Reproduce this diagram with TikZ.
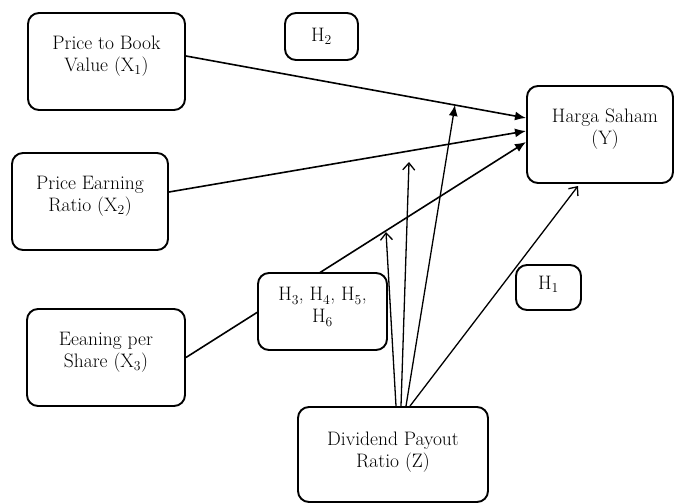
\documentclass[tikz,border=0pt]{standalone}
\usetikzlibrary{arrows.meta,backgrounds}
\begin{document}
\begin{tikzpicture}[x=1pt, y=-1pt, font=\fontsize{19.5}{22}\selectfont, line join=round, line cap=round, >={Latex[length=11pt,width=9pt]},
	hop/.style={draw, line width=1.9pt, rounded corners=11pt, fill=white, inner sep=0pt},
	chu/.style={align=center, inner sep=0pt},
	lien/.style={line width=1.6pt},
	mo/.style={line width=1.3pt, -{Straight Barb[length=7pt,width=12pt]}}]
	\useasboundingbox (0,0) rectangle (674,503);
	% Các hộp biến
	\node[hop, minimum width=157pt, minimum height=97pt] (x1) at (106.5,61.5) {};
	\node[chu] (x1t) at (106.5,56) {Price to Book\\Value (X\textsubscript{1})};
	\node[hop, minimum width=156pt, minimum height=97pt] (x2) at (90,201.5) {};
	\node[chu] (x2t) at (90,196) {Price Earning\\Ratio (X\textsubscript{2})};
	\node[hop, minimum width=158pt, minimum height=97pt] (x3) at (106,357.5) {};
	\node[chu] (x3t) at (106,352) {Eeaning per\\Share (X\textsubscript{3})};
	\node[hop, minimum width=146pt, minimum height=97pt] (y) at (600,134.5) {};
	\node[chu] (yt) at (605,129) {Harga Saham\\(Y)};
	\node[hop, minimum width=190pt, minimum height=95pt] (z) at (393,454.5) {};
	\node[chu] (zt) at (393,452) {Dividend Payout\\Ratio (Z)};
	% Các hộp giả thuyết
	\node[hop, minimum width=73pt, minimum height=47pt] (h2) at (321.5,36.5) {H\textsubscript{2}};
	\node[hop, minimum width=65pt, minimum height=45pt] (h1) at (548.5,287.5) {};
	\node[chu] (h1t) at (548.5,284) {H\textsubscript{1}};
	\node[hop, minimum width=129pt, minimum height=77pt] (h36) at (322.5,311.5) {};
	\node[chu] (h36t) at (322.5,307) {H\textsubscript{3}, H\textsubscript{4}, H\textsubscript{5},\\H\textsubscript{6}};
	% Điểm đầu mũi tên
	\coordinate (y1) at (526,118);
	\coordinate (y2) at (526,131);
	\coordinate (y3) at (526,142);
	\coordinate (m1) at (386,232);
	\coordinate (m2) at (409,162);
	\coordinate (m3) at (455,105);
	\coordinate (m4) at (578,186);
	\begin{scope}[on background layer]
		\draw[lien, ->] ([yshift=5.5pt]x1.east) -- (y1);
		\draw[lien, ->] ([yshift=9.5pt]x2.east) -- (y2);
		\draw[lien, ->] (x3.east) -- (y3);
		\draw[mo] ([xshift=3pt]z.north) -- (m1);
		\draw[mo] ([xshift=8pt]z.north) -- (m2);
		\draw[line width=1.3pt, ->] ([xshift=13pt]z.north) -- (m3);
		\draw[mo] ([xshift=17pt]z.north) -- (m4);
	\end{scope}
\end{tikzpicture}
\end{document}
